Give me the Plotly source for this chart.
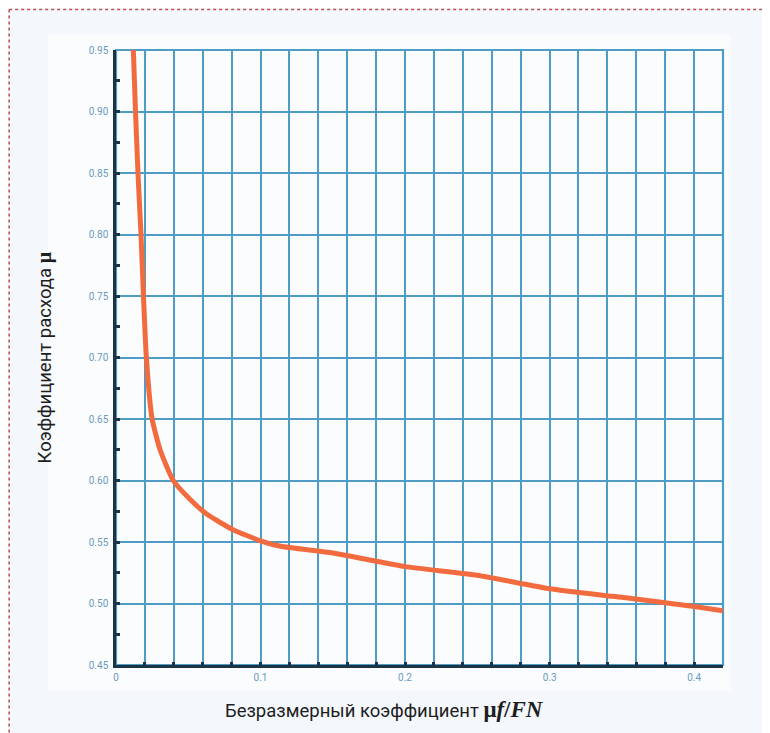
import plotly.graph_objects as go

# Data
x_vals = [0.012, 0.0135, 0.0152, 0.0173, 0.019, 0.021, 0.025, 0.0305, 0.0396, 0.051,
          0.063, 0.081, 0.10, 0.114, 0.15, 0.20, 0.25, 0.30, 0.35, 0.40, 0.42]
y_vals = [0.95, 0.90, 0.85, 0.80, 0.75, 0.70, 0.65, 0.625, 0.60, 0.585,
          0.5725, 0.56, 0.551, 0.5465, 0.541, 0.530, 0.523, 0.512, 0.505, 0.4975, 0.494]
x_tick_vals = [0, 0.1, 0.2, 0.3, 0.4]
x_tick_text = ["0", "0.1", "0.2", "0.3", "0.4"]
y_tick_vals = [0.45, 0.50, 0.55, 0.60, 0.65, 0.70, 0.75, 0.80, 0.85, 0.90, 0.95]
y_tick_text = ["0.45", "0.50", "0.55", "0.60", "0.65", "0.70", "0.75", "0.80", "0.85", "0.90", "0.95"]

GRID = "#4f9cc4"
AXIS = "#1a3445"
TICKFONT = dict(family="Roboto", size=10, color="#6a9bbd")
TITLEFONT = "Liberation Sans Narrow, Roboto, sans-serif"
SERIF = "font-family:Liberation Serif;font-size:23px"

fig = go.Figure()
fig.add_trace(go.Scatter(
    x=x_vals, y=y_vals, mode="lines",
    line=dict(color="#f26b3f", width=5, shape="spline", smoothing=0.5),
    hoverinfo="skip", showlegend=False,
))

fig.update_layout(
    width=762, height=725,
    margin=dict(l=108, r=47, t=42, b=68),
    paper_bgcolor="#f4f8fc",
    plot_bgcolor="#ffffff",
    showlegend=False,
    xaxis=dict(
        range=[0, 0.42], tickvals=x_tick_vals, ticktext=x_tick_text,
        showgrid=True, gridcolor=GRID, gridwidth=2.2,
        minor=dict(dtick=0.02, tick0=0, showgrid=True, gridcolor=GRID, gridwidth=2.2,
                   ticks="inside", ticklen=3, tickwidth=3, tickcolor=AXIS),
        ticks="inside", ticklen=3, tickwidth=3, tickcolor=AXIS,
        showline=True, linecolor=AXIS, linewidth=2.5, mirror=False,
        zeroline=False, tickfont=TICKFONT, ticklabelstandoff=1,
    ),
    yaxis=dict(
        range=[0.45, 0.95], tickvals=y_tick_vals, ticktext=y_tick_text,
        showgrid=True, gridcolor=GRID, gridwidth=2.2,
        minor=dict(dtick=0.025, tick0=0.45, showgrid=False,
                   ticks="inside", ticklen=4, tickwidth=3, tickcolor=AXIS),
        ticks="inside", ticklen=3, tickwidth=3, tickcolor=AXIS,
        showline=True, linecolor=AXIS, linewidth=2.5,
        zeroline=False, tickfont=TICKFONT, ticklabelstandoff=3,
    ),
    shapes=[
        # light panel behind chart
        dict(type="rect", xref="paper", yref="paper", x0=-0.112, x1=1.012, y0=-0.041, y1=1.024,
             fillcolor="#fbfcfd", line=dict(width=0), layer="below"),
        # right/top border of plot area
        dict(type="rect", xref="paper", yref="paper", x0=0, x1=1, y0=0, y1=1,
             line=dict(color=GRID, width=2.2), layer="below"),
        # dotted red page border (top and left)
        dict(type="line", xref="paper", yref="paper", x0=-0.176, x1=1.08, y0=1.066, y1=1.066,
             line=dict(color="#c0504d", width=1.5, dash="dot")),
        dict(type="line", xref="paper", yref="paper", x0=-0.176, x1=-0.176, y0=1.066, y1=-0.115,
             line=dict(color="#c0504d", width=1.5, dash="dot")),
    ],
    annotations=[
        dict(xref="paper", yref="paper", x=0.443, y=-0.073, xanchor="center", yanchor="middle",
             showarrow=False,
             text=f"Безразмерный коэффициент <b><span style='{SERIF}'>μ<i>f</i>/<i>FN</i></span></b>",
             font=dict(family=TITLEFONT, size=18.5, color="#1e1e1e")),
        dict(xref="paper", yref="paper", x=-0.117, y=0.5, xanchor="center", yanchor="middle",
             showarrow=False, textangle=-90,
             text="Коэффициент расхода <b><span style='font-family:Liberation Serif;font-size:20px'>μ</span></b>",
             font=dict(family=TITLEFONT, size=18.5, color="#1e1e1e")),
    ],
)

fig.write_html("out.html")
